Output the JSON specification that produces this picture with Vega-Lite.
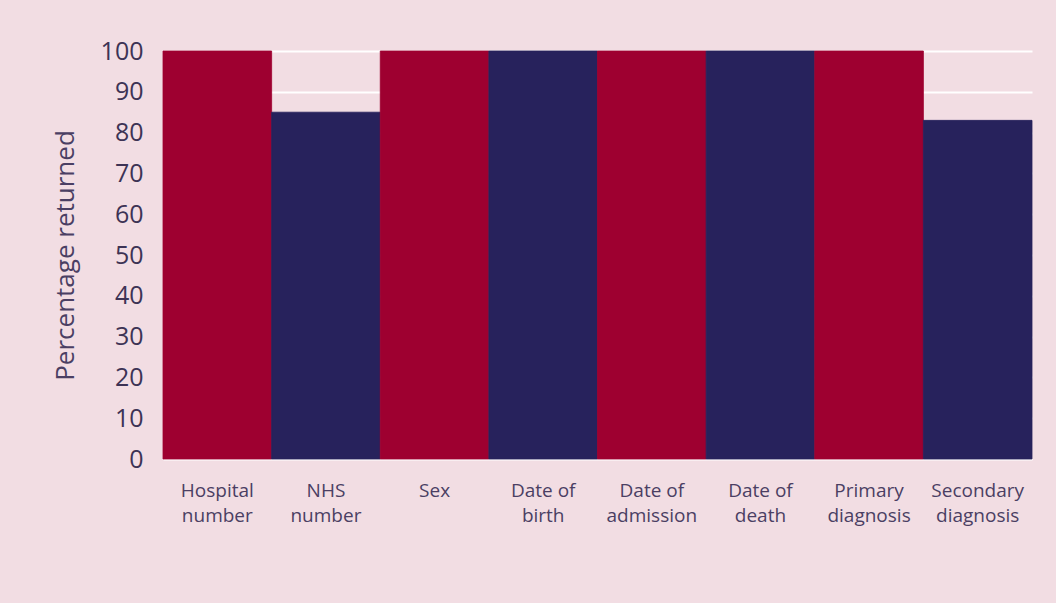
{
  "$schema": "https://vega.github.io/schema/vega-lite/v6.json",
  "autosize": {"type": "none"},
  "width": 869,
  "height": 408,
  "padding": {"left": 163, "top": 51, "right": 24, "bottom": 144},
  "background": "#f2dde3",
  "data": {
    "values": [
      {"field": "Hospital|number", "pct": 100, "grp": "A"},
      {"field": "NHS|number", "pct": 85, "grp": "B"},
      {"field": "Sex", "pct": 100, "grp": "A"},
      {"field": "Date of|birth", "pct": 100, "grp": "B"},
      {"field": "Date of|admission", "pct": 100, "grp": "A"},
      {"field": "Date of|death", "pct": 100, "grp": "B"},
      {"field": "Primary|diagnosis", "pct": 100, "grp": "A"},
      {"field": "Secondary|diagnosis", "pct": 83, "grp": "B"}
    ]
  },
  "mark": {"type": "bar", "strokeWidth": 0.8},
  "encoding": {
    "x": {
      "field": "field",
      "type": "nominal",
      "sort": null,
      "scale": {"paddingInner": 0, "paddingOuter": 0},
      "axis": {
        "title": null,
        "labelAngle": 0,
        "labelExpr": "split(datum.label, '|')",
        "labelFont": "Open Sans",
        "labelFontSize": 19,
        "labelColor": "#4b3f63",
        "labelPadding": 22,
        "labelLineHeight": 25,
        "ticks": false,
        "domain": false
      }
    },
    "y": {
      "field": "pct",
      "type": "quantitative",
      "scale": {"domain": [0, 100]},
      "axis": {
        "title": "Percentage returned",
        "titleFont": "Open Sans",
        "titleFontSize": 26,
        "titleFontWeight": "normal",
        "titleColor": "#4b3f63",
        "titlePadding": 22,
        "values": [0, 10, 20, 30, 40, 50, 60, 70, 80, 90, 100],
        "labelFont": "Open Sans",
        "labelFontSize": 25,
        "labelColor": "#3d3355",
        "labelPadding": 20,
        "ticks": false,
        "domain": false,
        "grid": true,
        "gridColor": "#ffffff",
        "gridWidth": 2,
        "gridOpacity": 1
      }
    },
    "color": {
      "field": "grp",
      "type": "nominal",
      "scale": {"domain": ["A", "B"], "range": ["#9e0030", "#27225c"]},
      "legend": null
    },
    "stroke": {
      "field": "grp",
      "type": "nominal",
      "scale": {"domain": ["A", "B"], "range": ["#9e0030", "#27225c"]},
      "legend": null
    }
  },
  "config": {"view": {"stroke": null}}
}
